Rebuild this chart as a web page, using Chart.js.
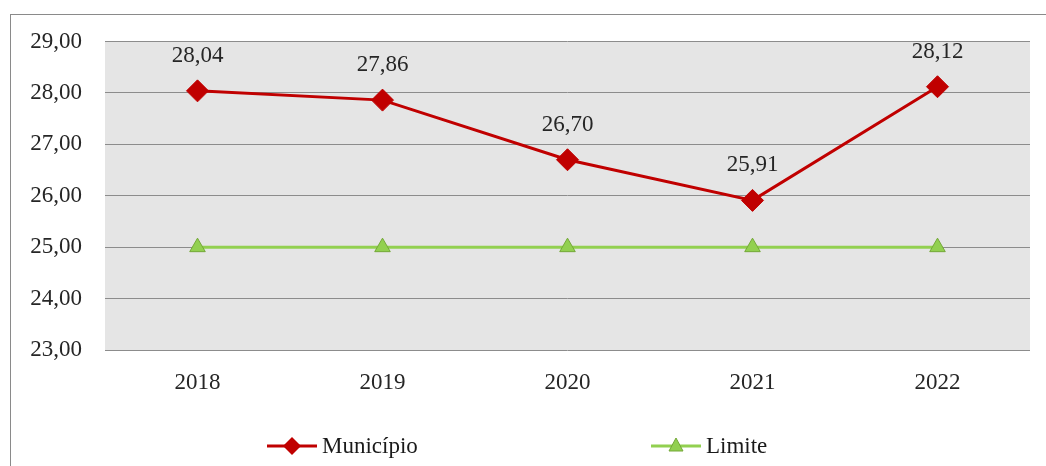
<!DOCTYPE html>
<html><head><meta charset="utf-8">
<script src="https://cdn.jsdelivr.net/npm/chart.js@4/dist/chart.umd.min.js"></script>
<style>html,body{margin:0;padding:0;background:#fff}#wrap{width:1046px;height:466px}</style>
</head><body><div id="wrap"><canvas id="c" width="1046" height="466"></canvas></div>
<script>
const categories = ['2018','2019','2020','2021','2022'];
const municipio = [28.04, 27.86, 26.70, 25.91, 28.12];
const limite = [25, 25, 25, 25, 25];
const seriesNames = ['Município','Limite'];
const FONT = '"Liberation Serif", "DejaVu Serif", serif';
const FS = 23;
const fmt = v => v.toFixed(2).replace('.', ',');

const frame = {
  id:'frame',
  beforeDraw(chart){
    const ctx = chart.ctx, a = chart.chartArea;
    ctx.save();
    ctx.fillStyle = '#ffffff'; ctx.fillRect(0,0,chart.width,chart.height);
    ctx.strokeStyle = '#8a8a8a'; ctx.lineWidth = 1;
    ctx.strokeRect(10.5, 14.5, 1200, 600);
    ctx.fillStyle = '#e5e5e5';
    ctx.fillRect(a.left, a.top, a.right - a.left, a.bottom - a.top);
    ctx.restore();
  },
  afterDatasetsDraw(chart){
    const ctx = chart.ctx;
    const meta = chart.getDatasetMeta(0);
    ctx.save();
    ctx.font = FS + 'px ' + FONT; ctx.fillStyle = '#262626';
    ctx.textAlign = 'center'; ctx.textBaseline = 'middle';
    meta.data.forEach((p,i)=>{ ctx.fillText(fmt(municipio[i]), p.x, p.y - 35); });
    // legend
    const ly = 446;
    function item(x0, color, name, marker){
      ctx.strokeStyle = color; ctx.lineWidth = 3;
      ctx.beginPath(); ctx.moveTo(x0, ly); ctx.lineTo(x0+50, ly); ctx.stroke();
      const cx = x0+25;
      if(marker==='d'){
        ctx.fillStyle = color; ctx.beginPath();
        ctx.moveTo(cx, ly-9); ctx.lineTo(cx+9, ly); ctx.lineTo(cx, ly+9); ctx.lineTo(cx-9, ly); ctx.closePath(); ctx.fill();
      } else {
        ctx.fillStyle = '#92d050'; ctx.strokeStyle = '#74a838'; ctx.lineWidth = 1;
        ctx.beginPath(); ctx.moveTo(cx, ly-8); ctx.lineTo(cx+7, ly+5); ctx.lineTo(cx-7, ly+5); ctx.closePath(); ctx.fill(); ctx.stroke();
      }
      ctx.fillStyle = '#1a1a1a'; ctx.textAlign='left'; ctx.font = FS + 'px ' + FONT;
      ctx.fillText(name, x0+55, ly+1);
    }
    item(267, '#c00000', seriesNames[0], 'd');
    item(651, '#92d050', seriesNames[1], 't');
    ctx.restore();
  }
};

new Chart(document.getElementById('c'), {
  type:'line',
  data:{ labels: categories, datasets:[
    { label: seriesNames[0], data: municipio, borderColor:'#c00000', backgroundColor:'#c00000', borderWidth:3,
      pointStyle:'rectRot', pointRadius:11, pointHoverRadius:11, pointBackgroundColor:'#c00000', pointBorderColor:'#c00000', pointBorderWidth:1, tension:0, order:1 },
    { label: seriesNames[1], data: limite, borderColor:'#92d050', backgroundColor:'#92d050', borderWidth:3,
      pointStyle:'triangle', pointRadius:9, pointHoverRadius:9, pointBackgroundColor:'#92d050', pointBorderColor:'#74a838', pointBorderWidth:1, tension:0, order:2 }
  ]},
  options:{
    responsive:false, animation:false, devicePixelRatio:1,
    layout:{ padding:{ left:0, top:41.5, right:16, bottom:0 } },
    plugins:{ legend:{display:false}, tooltip:{enabled:false} },
    scales:{
      x:{ offset:true, grid:{display:false}, border:{display:false},
          ticks:{ font:{family:FONT, size:FS}, color:'#262626', padding:11 },
          afterFit(s){ s.height = 116; } },
      y:{ min:23, max:29, border:{display:false},
          grid:{ color:'#8c8c8c', lineWidth:1, drawTicks:false },
          ticks:{ stepSize:1, font:{family:FONT, size:FS}, color:'#262626', padding:23, callback:v=>fmt(v) },
          afterFit(s){ s.width = 105; } }
    }
  },
  plugins:[frame]
});
</script></body></html>
